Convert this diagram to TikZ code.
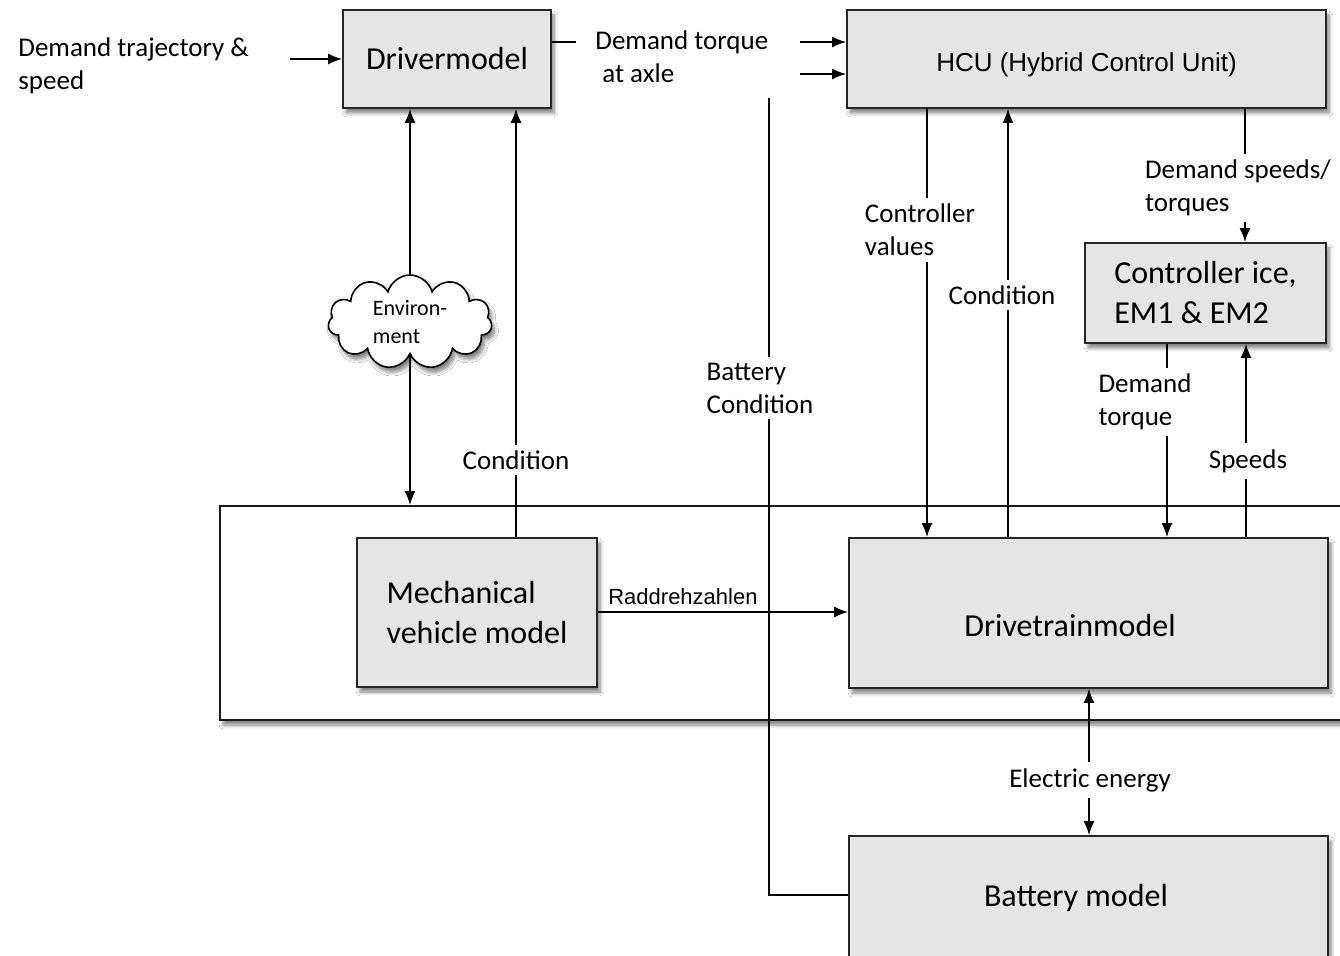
\documentclass[tikz,border=0pt]{standalone}
\usepackage{fontspec}
\setmainfont{Carlito}
\newfontfamily\arialf{Liberation Sans}
\usetikzlibrary{arrows.meta,shapes.symbols,shadows.blur}
\begin{document}
\begin{tikzpicture}[x=0.5pt,y=-0.5pt,
  box/.style={draw=black!85, line width=0.9pt, fill=black!10, inner sep=0pt,
    blur shadow={shadow xshift=1.5pt, shadow yshift=-2.5pt, shadow blur steps=6, shadow opacity=50}},
  arr/.style={line width=0.8pt, -{Latex[length=7pt,width=5.5pt]}},
  dbl/.style={line width=0.8pt, {Latex[length=7pt,width=5.5pt]}-{Latex[length=7pt,width=5.5pt]}},
  ln/.style={line width=0.8pt},
  lbl/.style={font=\fontsize{13.5}{16.5}\selectfont, align=left, inner sep=1pt},
  wl/.style={lbl, fill=white, inner sep=3pt},
  big/.style={font=\fontsize{16}{20}\selectfont},
]
\clip (0,0) rectangle (1340,956);
\fill[white] (0,0) rectangle (1340,956);

% container frame
\node[box, draw=black!90, fill=white, minimum width=590pt, minimum height=107pt] (frame) at (810,613) {};

% blocks
\node[box, minimum width=104pt, minimum height=49pt, big] (drv) at (447,59) {Drivermodel};
\node[box, minimum width=239.5pt, minimum height=49pt, font=\arialf\fontsize{13}{16}\selectfont] (hcu) at (1086.5,59) {\raisebox{-6.1pt}[0pt][0pt]{HCU (Hybrid Control Unit)}};
\node[box, minimum width=120.5pt, minimum height=50pt, big, align=left] (ctrl) at (1205.5,293) {Controller ice,\\EM1 \& EM2};
\node[box, minimum width=120pt, minimum height=74.5pt, big, align=left] (mech) at (477,612.5) {Mechanical\\vehicle model};
\node[box, minimum width=239.5pt, minimum height=75pt, big] (dt) at (1088.5,613) {\raisebox{-12pt}[0pt][0pt]{Drivetrainmodel}\hspace*{18.5pt}};
\node[box, minimum width=239.5pt, minimum height=62pt, big] (bat) at (1088.5,898) {Battery model\hspace*{12.5pt}};
\node[draw, line width=0.8pt, cloud, cloud puffs=11, aspect=1.75, minimum width=82pt, minimum height=47pt, fill=white, inner sep=0pt,
  blur shadow={shadow xshift=1.5pt, shadow yshift=-2.5pt, shadow blur steps=6, shadow opacity=50},
  font=\fontsize{11}{14}\selectfont, align=left] (env) at (410,322) {Environ-\\ment};

% free-standing texts
\node[lbl, anchor=west] (dts) at (16,66) {Demand trajectory \&\\speed};
\node[lbl, anchor=west] (dtq) at (593,57) {Demand torque\\\hspace*{3.5pt}at axle};

% helper coordinates
\coordinate (in0) at (290,59);
\coordinate (s1) at (576,42);
\coordinate (a1) at (800,42);
\coordinate (a2) at (800,74);
\coordinate (xc1) at (516,0);
\coordinate (bc) at (769,98);
\coordinate (bcy) at (0,895);
\coordinate (xc2) at (927,0);
\coordinate (xc3) at (1008,0);
\coordinate (xc4) at (1245,0);
\coordinate (xc5) at (1167,0);
\coordinate (xc6) at (1246,0);
\coordinate (ry) at (0,612);
\coordinate (xe) at (1089,0);

% connectors
\draw[arr] (in0) -- (drv.west);
\draw[ln] (drv.east |- s1) -- (s1);
\draw[arr] (a1) -- (hcu.west |- a1);
\draw[arr] (a2) -- (hcu.west |- a2);

\draw[arr] (env.north) -- (env.north |- drv.south);
\draw[arr] (env.south) -- (env.south |- frame.north);

\draw[arr] (mech.north -| xc1) -- node[wl, pos=0.18] {Condition} (drv.south -| xc1);

\draw[ln] (bat.west |- bcy) -| (bc);
\node[wl] (bcl) at (760,388) {Battery\\Condition};

\draw[arr] (hcu.south -| xc2) -- (dt.north -| xc2);
\node[wl] (cvl) at (920,230) {Controller\\values};

\draw[arr] (dt.north -| xc3) -- (hcu.south -| xc3);
\node[wl] (cdl) at (1002,295) {Condition};

\draw[arr] (hcu.south -| xc4) -- (ctrl.north -| xc4);
\node[wl] (dsl) at (1238,188) {Demand speeds/\\torques};

\draw[arr] (ctrl.south -| xc5) -- (dt.north -| xc5);
\node[wl] (dql) at (1145,402) {Demand\\torque};

\draw[arr] (dt.north -| xc6) -- (ctrl.south -| xc6);
\node[wl] (spl) at (1248,461) {Speeds};

\draw[arr] (mech.east |- ry) -- node[above, pos=0.34, inner sep=3pt, font=\arialf\fontsize{11}{13}\selectfont] {Raddrehzahlen} (dt.west |- ry);

\draw[dbl] (dt.south -| xe) -- (bat.north -| xe);
\node[wl] (eel) at (1090,780) {Electric energy};
\end{tikzpicture}
\end{document}
